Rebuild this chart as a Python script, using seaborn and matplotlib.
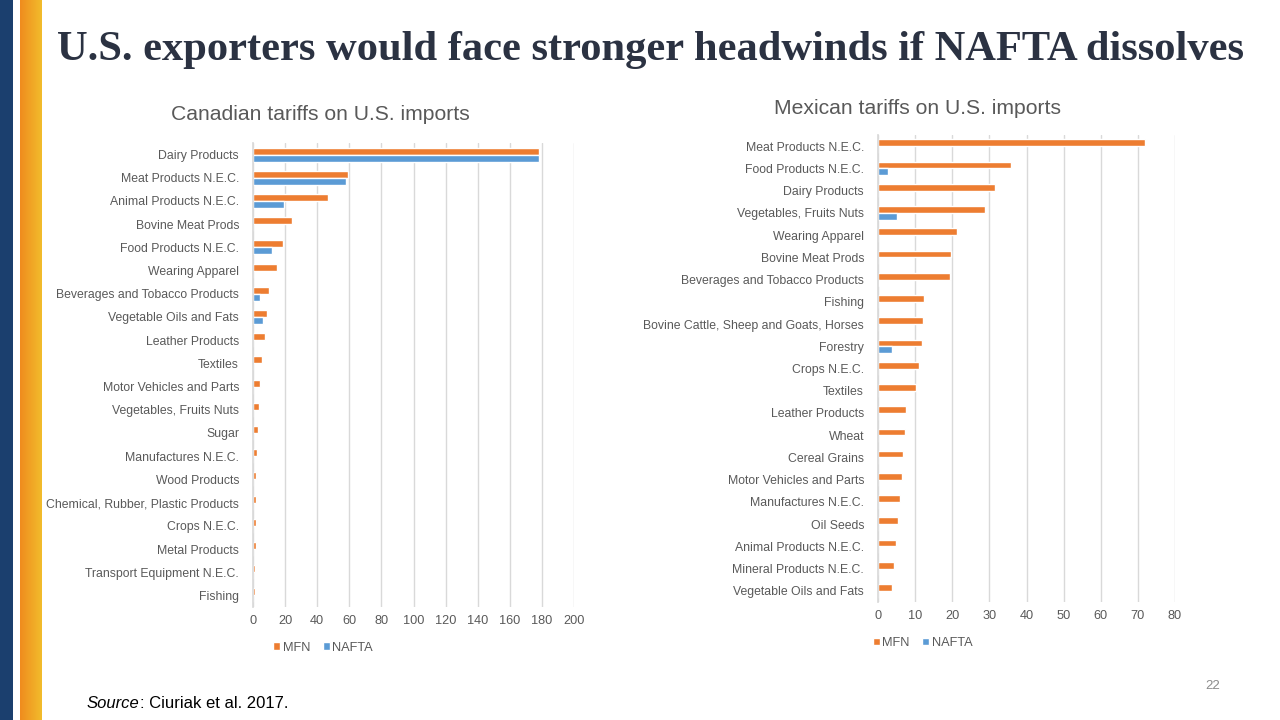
import numpy as np
import pandas as pd
import matplotlib
matplotlib.use("Agg")
import matplotlib.pyplot as plt
import seaborn as sns
from matplotlib.colors import LinearSegmentedColormap

# ---------------- data ----------------
can_categories = ["Dairy Products", "Meat Products N.E.C.", "Animal Products N.E.C.",
                  "Bovine Meat Prods", "Food Products N.E.C.", "Wearing Apparel",
                  "Beverages and Tobacco Products", "Vegetable Oils and Fats",
                  "Leather Products", "Textiles", "Motor Vehicles and Parts",
                  "Vegetables, Fruits Nuts", "Sugar", "Manufactures N.E.C.",
                  "Wood Products", "Chemical, Rubber, Plastic Products", "Crops N.E.C.",
                  "Metal Products", "Transport Equipment N.E.C.", "Fishing"]
can_mfn = [178.5, 59.0, 46.7, 24.2, 18.8, 15.2, 10.0, 9.0, 7.7, 5.8, 4.4, 3.5, 3.1,
           2.5, 2.1, 2.0, 1.8, 1.6, 1.3, 1.2]
can_nafta = [178.5, 57.9, 19.4, 0.2, 11.9, 0.0, 4.4, 6.5, 0.0, 0.0, 0.0, 0.0, 0.0,
             0.0, 0.0, 0.0, 0.0, 0.0, 0.0, 0.0]

mex_categories = ["Meat Products N.E.C.", "Food Products N.E.C.", "Dairy Products",
                  "Vegetables, Fruits Nuts", "Wearing Apparel", "Bovine Meat Prods",
                  "Beverages and Tobacco Products", "Fishing",
                  "Bovine Cattle, Sheep and Goats, Horses", "Forestry", "Crops N.E.C.",
                  "Textiles", "Leather Products", "Wheat", "Cereal Grains",
                  "Motor Vehicles and Parts", "Manufactures N.E.C.", "Oil Seeds",
                  "Animal Products N.E.C.", "Mineral Products N.E.C.",
                  "Vegetable Oils and Fats"]
mex_mfn = [71.8, 35.9, 31.6, 28.7, 21.2, 19.7, 19.3, 12.5, 12.0, 11.8, 11.0, 10.2,
           7.6, 7.2, 6.8, 6.5, 5.9, 5.3, 4.8, 4.2, 3.9]
mex_nafta = [0.0, 2.6, 0.0, 5.0, 0.0, 0.0, 0.2, 0.0, 0.0, 3.9, 0.0, 0.0,
             0.0, 0.0, 0.0, 0.0, 0.0, 0.0, 0.0, 0.0, 0.0]

series = ["MFN", "NAFTA"]
palette = {"MFN": "#ED7D31", "NAFTA": "#5B9BD5"}

can_ticks = [0, 20, 40, 60, 80, 100, 120, 140, 160, 180, 200]
mex_ticks = [0, 10, 20, 30, 40, 50, 60, 70, 80]


def long_df(cats, mfn, nafta):
    return pd.DataFrame({
        "category": cats * 2,
        "value": list(mfn) + list(nafta),
        "series": ["MFN"] * len(cats) + ["NAFTA"] * len(cats),
    })


# ---------------- figure ----------------
sns.set_theme(style="white")
plt.rcParams["font.family"] = ["Liberation Sans", "DejaVu Sans"]
fig = plt.figure(figsize=(12.8, 7.2), dpi=100)
fig.patch.set_facecolor("white")

# decorative strips on the left
strip1 = fig.add_axes([0, 0, 13 / 1280, 1])
strip1.set_facecolor("#1B3F6E")
strip1.set_xticks([]); strip1.set_yticks([])
for s in strip1.spines.values():
    s.set_visible(False)
strip2 = fig.add_axes([20 / 1280, 0, 22 / 1280, 1])
grad = np.linspace(0, 1, 64).reshape(1, -1)
cmap = LinearSegmentedColormap.from_list("o", ["#EF8C1E", "#F2BC2C"])
strip2.imshow(grad, aspect="auto", cmap=cmap, extent=[0, 1, 0, 1])
strip2.set_axis_off()

label_color = "#595959"
grid_color = "#D9D9D9"


def draw(ax, cats, mfn, nafta, ticks, title, title_x, title_y, leg_x, leg_y):
    df = long_df(cats, mfn, nafta)
    sns.barplot(data=df, y="category", x="value", hue="series", hue_order=series,
                palette=palette, orient="h", width=0.6, ax=ax, saturation=1,
                order=cats, dodge=True, legend=True)
    ax.set_xlim(ticks[0], ticks[-1])
    ax.set_ylim(len(cats) - 0.5, -0.5)
    ax.set_xticks(ticks)
    ax.set_xlabel("")
    ax.set_ylabel("")
    ax.grid(axis="x", color=grid_color, linewidth=1)
    ax.grid(axis="y", visible=False)
    ax.set_axisbelow(True)
    for s in ["top", "right", "bottom"]:
        ax.spines[s].set_visible(False)
    ax.spines["left"].set_color(grid_color)
    ax.tick_params(axis="both", length=0, colors=label_color, labelsize=8.8, pad=10)
    ax.tick_params(axis="x", pad=6, labelsize=9.2)
    handles, labels = ax.get_legend_handles_labels()
    ax.legend(handles, labels, loc="center", bbox_to_anchor=(leg_x, leg_y),
              ncol=2, frameon=False, fontsize=9.2, handlelength=0.55,
              handleheight=0.55, handletextpad=0.2, columnspacing=1.0,
              labelcolor=label_color)
    fig.text(title_x, title_y, title, ha="center", va="center", fontsize=15.2,
             color=label_color)


ax1 = fig.add_axes([253 / 1280, 1 - 607 / 720, 321 / 1280, 464 / 720])
draw(ax1, can_categories, can_mfn, can_nafta, can_ticks,
     "Canadian tariffs on U.S. imports", 320 / 1280, 1 - 114 / 720, 0.218, -0.088)

ax2 = fig.add_axes([878 / 1280, 1 - 602 / 720, 297 / 1280, 467 / 720])
draw(ax2, mex_categories, mex_mfn, mex_nafta, mex_ticks,
     "Mexican tariffs on U.S. imports", 918 / 1280, 1 - 108 / 720, 0.15, -0.088)

# main title
fig.text(57 / 1280, 1 - 50 / 720,
         "U.S. exporters would face stronger headwinds if NAFTA dissolves",
         ha="left", va="center", fontsize=30.6, fontweight="bold",
         family=["Liberation Serif", "DejaVu Serif"], color="#2B3242")

# source and page number
t_src = fig.text(87 / 1280, 1 - 703 / 720, "Source", ha="left", va="center",
                 fontsize=12, style="italic", color="black")
fig.canvas.draw()
bb = t_src.get_window_extent(renderer=fig.canvas.get_renderer())
fig.text(bb.x1 / fig.bbox.width, 1 - 703 / 720, ": Ciuriak et al. 2017.", ha="left",
         va="center", fontsize=12, color="black")
fig.text(1213 / 1280, 1 - 686 / 720, "22", ha="center", va="center",
         fontsize=9.5, color="#8C8C8C")

fig.savefig("out.png", dpi=100, facecolor="white")
